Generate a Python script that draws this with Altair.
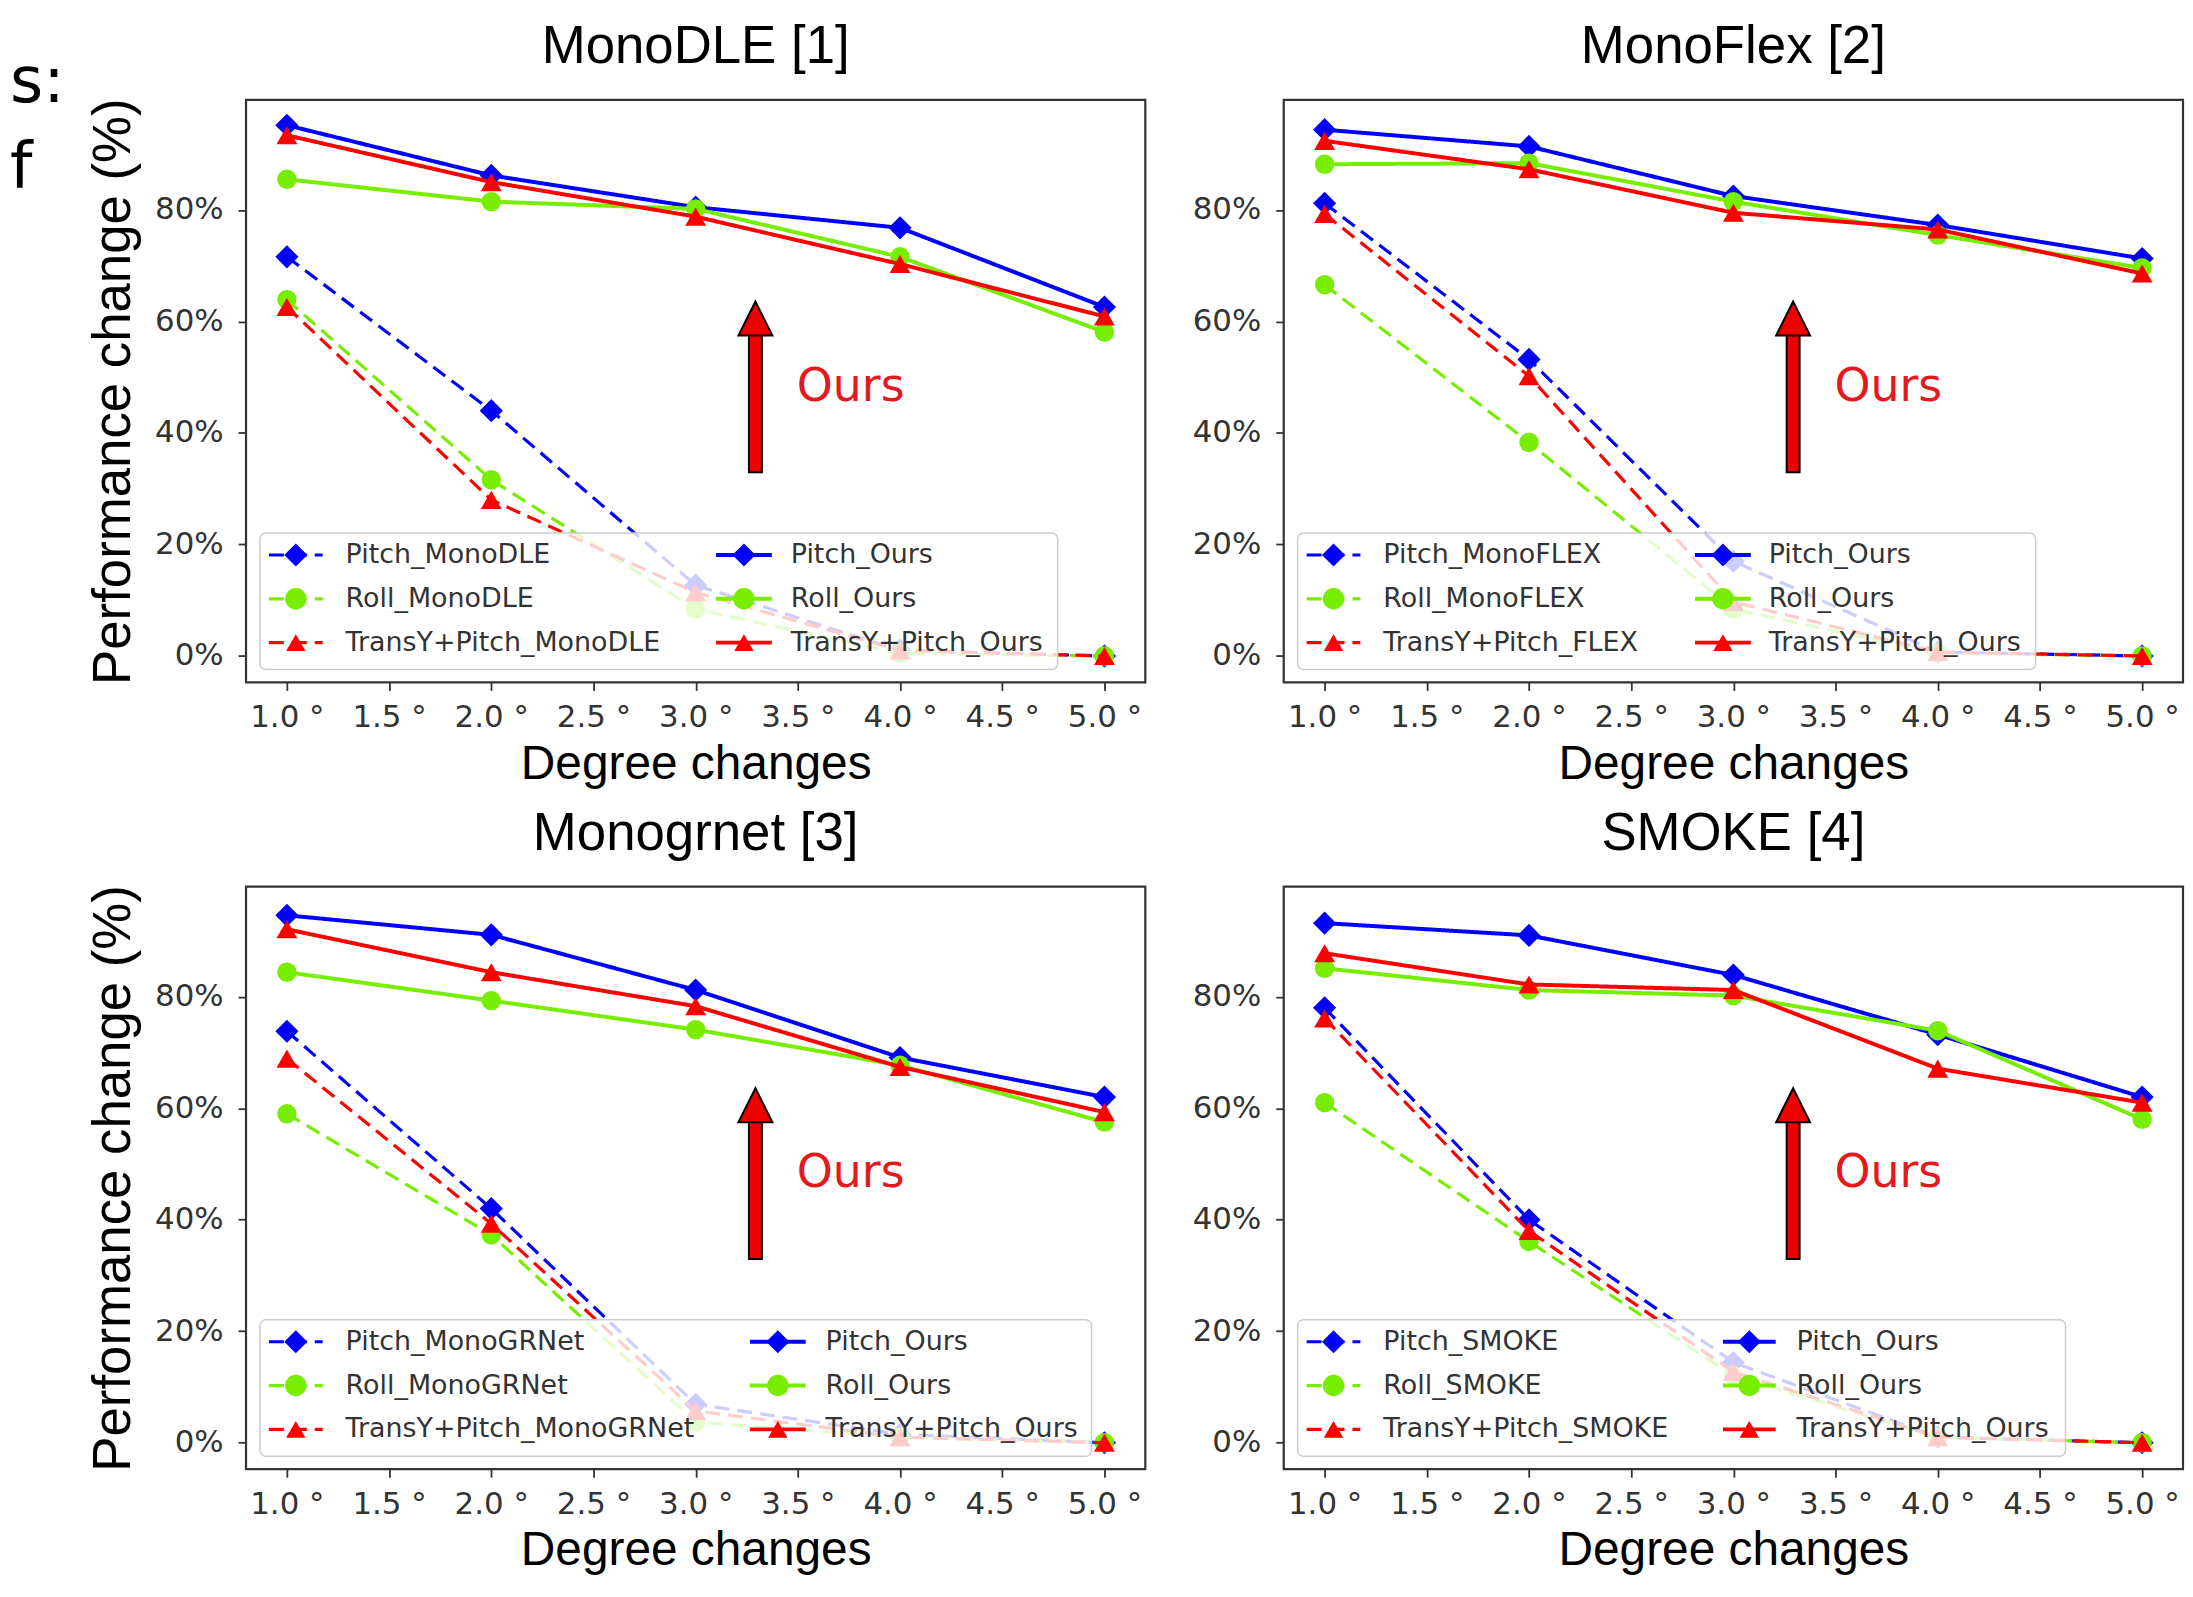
import altair as alt
import pandas as pd

# ---------------- data ----------------
degrees = [1.0, 2.0, 3.0, 4.0, 5.0]
x_ticks = [1.0, 1.5, 2.0, 2.5, 3.0, 3.5, 4.0, 4.5, 5.0]
y_ticks = [0, 20, 40, 60, 80]

panel_titles = ["MonoDLE [1]", "MonoFlex [2]", "Monogrnet [3]", "SMOKE [4]"]
baseline_labels = [
    ["Pitch_MonoDLE", "Roll_MonoDLE", "TransY+Pitch_MonoDLE"],
    ["Pitch_MonoFLEX", "Roll_MonoFLEX", "TransY+Pitch_FLEX"],
    ["Pitch_MonoGRNet", "Roll_MonoGRNet", "TransY+Pitch_MonoGRNet"],
    ["Pitch_SMOKE", "Roll_SMOKE", "TransY+Pitch_SMOKE"],
]
ours_labels = ["Pitch_Ours", "Roll_Ours", "TransY+Pitch_Ours"]
kinds = ["Pitch", "Roll", "TransY"]

# MonoDLE
monodle_pitch = [71.6, 44.0, 12.7, 1.0, 0.0]
monodle_roll = [63.9, 31.6, 8.4, 0.5, 0.0]
monodle_transy = [62.6, 28.0, 11.4, 1.0, 0.0]
monodle_pitch_ours = [95.2, 86.2, 80.5, 76.8, 62.6]
monodle_roll_ours = [85.5, 81.5, 80.2, 71.6, 58.1]
monodle_transy_ours = [93.4, 85.0, 78.8, 70.3, 60.9]

# MonoFlex
monoflex_pitch = [81.2, 53.2, 17.0, 0.7, 0.0]
monoflex_roll = [66.6, 38.3, 8.4, 0.5, 0.0]
monoflex_transy = [79.3, 50.2, 9.7, 0.7, 0.0]
monoflex_pitch_ours = [94.4, 91.4, 82.5, 77.3, 71.3]
monoflex_roll_ours = [88.2, 88.4, 81.5, 75.5, 69.6]
monoflex_transy_ours = [92.4, 87.3, 79.5, 76.5, 68.6]

# MonoGRNet
monogrnet_pitch = [73.8, 42.0, 6.9, 1.5, 0.0]
monogrnet_roll = [59.0, 37.3, 3.7, 1.0, 0.0]
monogrnet_transy = [68.9, 39.3, 5.7, 1.0, 0.0]
monogrnet_pitch_ours = [94.6, 91.1, 81.2, 69.1, 62.0]
monogrnet_roll_ours = [84.4, 79.3, 74.1, 67.7, 57.5]
monogrnet_transy_ours = [92.1, 84.4, 78.3, 67.4, 59.3]

# SMOKE
smoke_pitch = [78.0, 40.0, 14.4, 1.0, 0.0]
smoke_roll = [61.0, 36.1, 12.0, 1.0, 0.0]
smoke_transy = [76.1, 38.0, 12.7, 1.0, 0.0]
smoke_pitch_ours = [93.2, 91.0, 83.9, 73.2, 62.0]
smoke_roll_ours = [85.1, 81.2, 80.2, 73.9, 58.0]
smoke_transy_ours = [87.8, 82.2, 81.2, 67.1, 61.0]

baseline_values = [
    [monodle_pitch, monodle_roll, monodle_transy],
    [monoflex_pitch, monoflex_roll, monoflex_transy],
    [monogrnet_pitch, monogrnet_roll, monogrnet_transy],
    [smoke_pitch, smoke_roll, smoke_transy],
]
ours_values = [
    [monodle_pitch_ours, monodle_roll_ours, monodle_transy_ours],
    [monoflex_pitch_ours, monoflex_roll_ours, monoflex_transy_ours],
    [monogrnet_pitch_ours, monogrnet_roll_ours, monogrnet_transy_ours],
    [smoke_pitch_ours, smoke_roll_ours, smoke_transy_ours],
]

# ---------------- style / layout ----------------
W, H = 903, 585
XD = (0.8, 5.2)
YD = (-4.75, 99.75)
colors = ["#0000ff", "#77ee00", "#ff0000"]
shapes = ["diamond", "circle", "triangle-up"]
sizes = [540, 380, 440]
DASH = [15, 8]
SANS = "DejaVu Sans"
TITLEF = "Liberation Sans, Arial, sans-serif"
TXT = "#333333"

# legend layout (pixels inside the plot area): col2 line start, line end, text start, box right
legend_cols = [(472, 528, 547, 815), (413, 469, 487, 755), (506, 562, 582, 849), (441, 494, 515, 785)]
legend_rows = [457, 501, 545]
legend_box = (14, 435, 572)  # left, top, bottom


def px2x(p):
    return XD[0] + p / W * (XD[1] - XD[0])


def py2y(p):
    return YD[1] - p / H * (YD[1] - YD[0])


def make_axes(left):
    ax = alt.Axis(values=x_ticks, labelExpr="format(datum.value, '.1f') + ' °'",
                  grid=False, domain=False, tickSize=8, tickWidth=1.8, tickColor="#333333",
                  labelFont=SANS, labelFontSize=31, labelColor=TXT, labelPadding=12,
                  labelFlush=False, labelOverlap=False,
                  titleFont=TITLEF, titleFontSize=48, titleFontWeight="normal",
                  titleColor="black", titlePadding=8)
    ay = alt.Axis(values=y_ticks, labelExpr="datum.value + '%'",
                  grid=False, domain=False, tickSize=8, tickWidth=1.8, tickColor="#333333",
                  labelFont=SANS, labelFontSize=31, labelColor=TXT, labelPadding=15,
                  labelFlush=False, labelOverlap=False,
                  titleFont=TITLEF, titleFontSize=53, titleFontWeight="normal",
                  titleColor="black", titlePadding=14)
    xs = alt.Scale(domain=list(XD), nice=False, zero=False)
    ys = alt.Scale(domain=list(YD), nice=False, zero=False)
    xt = "Degree changes"
    yt = "Performance change (%)" if left else ""

    def X(field="deg"):
        return alt.X(f"{field}:Q", scale=xs, axis=ax, title=xt)

    def Y(field="val"):
        return alt.Y(f"{field}:Q", scale=ys, axis=ay, title=yt)

    return X, Y


def panel(i):
    left = i % 2 == 0
    X, Y = make_axes(left)
    layers = []
    # data series, in drawing order
    for style, vals_list, dash, sw in (("base", baseline_values[i], DASH, 3.2),
                                       ("ours", ours_values[i], [1, 0], 4)):
        for k in range(3):
            df = pd.DataFrame({"deg": degrees, "val": vals_list[k]})
            layers.append(
                alt.Chart(df).mark_line(
                    color=colors[k], strokeDash=dash, strokeWidth=sw,
                    point=alt.OverlayMarkDef(filled=True, shape=shapes[k], size=sizes[k],
                                             color=colors[k], opacity=1)
                ).encode(x=X(), y=Y())
            )

    # arrow "Ours"
    shaft = pd.DataFrame({"deg": [px2x(511.5 - 6.5)], "deg2": [px2x(511.5 + 6.5)],
                          "val": [py2y(374)], "val2": [py2y(232)]})
    layers.append(alt.Chart(shaft).mark_rect(fill="#ee0000", stroke="black", strokeWidth=2)
                  .encode(x=X(), x2=alt.X2("deg2"), y=Y(), y2=alt.Y2("val2")))
    head = pd.DataFrame({"deg": [px2x(511.5)], "val": [py2y(219.5)]})
    layers.append(alt.Chart(head).mark_point(shape="M-1,1L0,-1L1,1Z", size=1156, filled=True,
                                             fill="#ee0000", stroke="black", strokeWidth=2,
                                             opacity=1)
                  .encode(x=X(), y=Y()))
    ours_txt = pd.DataFrame({"deg": [px2x(553)], "val": [py2y(302)], "label": ["Ours"]})
    layers.append(alt.Chart(ours_txt).mark_text(align="left", baseline="alphabetic", font=SANS,
                                                fontSize=46, color="#e5181e")
                  .encode(x=X(), y=Y(), text="label:N"))

    # legend box
    c2a, c2b, c2t, bright = legend_cols[i]
    box = pd.DataFrame({"deg": [px2x(legend_box[0])], "deg2": [px2x(bright)],
                        "val": [py2y(legend_box[1])], "val2": [py2y(legend_box[2])]})
    layers.append(alt.Chart(box).mark_rect(fill="white", fillOpacity=0.8, stroke="#cccccc",
                                           strokeWidth=1.5, cornerRadius=6)
                  .encode(x=X(), x2=alt.X2("deg2"), y=Y(), y2=alt.Y2("val2")))

    rows = []
    for col, labels, style in ((0, baseline_labels[i], "base"), (1, ours_labels, "ours")):
        la, lb, lt = (23, 77, 100) if col == 0 else (c2a, c2b, c2t)
        for k in range(3):
            rows.append({"deg": px2x(la), "deg2": px2x(lb), "mid": px2x((la + lb) / 2),
                         "tx": px2x(lt), "val": py2y(legend_rows[k]), "kind": kinds[k],
                         "style": style, "label": labels[k]})
    leg = pd.DataFrame(rows)
    color_enc = alt.Color("kind:N", scale=alt.Scale(domain=kinds, range=colors), legend=None)
    layers.append(alt.Chart(leg).mark_rule().encode(
        x=X(), x2=alt.X2("deg2"), y=Y(), color=color_enc,
        strokeDash=alt.StrokeDash("style:N", scale=alt.Scale(domain=["base", "ours"],
                                                              range=[DASH, [1, 0]]), legend=None),
        strokeWidth=alt.StrokeWidth("style:N", scale=alt.Scale(domain=["base", "ours"],
                                                                range=[3.2, 4]), legend=None)))
    layers.append(alt.Chart(leg).mark_point(filled=True, opacity=1).encode(
        x=X("mid"), y=Y(), color=color_enc,
        shape=alt.Shape("kind:N", scale=alt.Scale(domain=kinds, range=shapes), legend=None),
        size=alt.Size("kind:O", scale=alt.Scale(domain=kinds, range=sizes), legend=None)))
    layers.append(alt.Chart(leg).mark_text(align="left", baseline="middle", font=SANS,
                                           fontSize=27, color=TXT).encode(
        x=X("tx"), y=Y(), text="label:N"))

    stub = pd.DataFrame({"a": [0]})
    # panel title as a text mark above the plot area
    layers.append(alt.Chart(stub).mark_text(align="center", baseline="alphabetic", font=TITLEF,
                                            fontSize=53, color="black", text=panel_titles[i])
                  .encode(x=alt.value(W / 2), y=alt.value(-37)))

    if i == 0:
        layers.append(alt.Chart(stub).mark_text(align="left", baseline="alphabetic", font=SANS,
                                                fontSize=64, color="black", text="s:")
                      .encode(x=alt.value(-237), y=alt.value(2)))
        layers.append(alt.Chart(stub).mark_text(align="left", baseline="alphabetic", font=SANS,
                                                fontSize=64, color="black", text="f")
                      .encode(x=alt.value(-237), y=alt.value(88)))

    return alt.layer(*layers).properties(width=W, height=H)


chart = alt.concat(
    *[panel(i) for i in range(4)],
    columns=2,
    spacing=alt.RowColnumber(row=205, column=139),
    bounds="flush",
).properties(
    padding={"left": 0, "top": 8, "right": 0, "bottom": 0},
    background="white",
).configure_view(
    stroke="#333333", strokeWidth=2.2, fill="white"
)

chart.save("out.html", embed_options={"renderer": "svg", "actions": False})
